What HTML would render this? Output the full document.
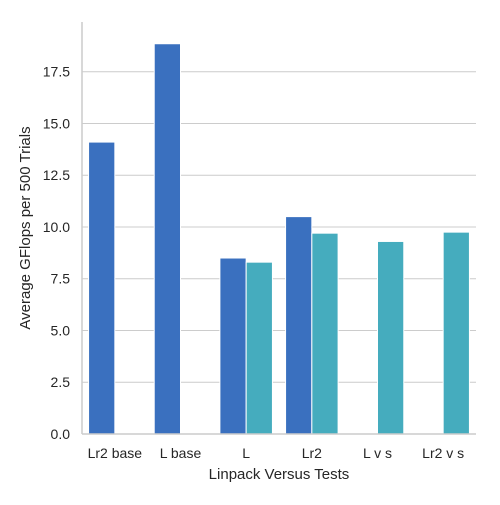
<!DOCTYPE html>
<html><head><meta charset="utf-8"><style>
body{margin:0;background:#fff;width:500px;height:500px;overflow:hidden}
text{font-family:"Liberation Sans",sans-serif;fill:#262626}
</style></head><body>
<svg id="chart" width="500" height="500" xmlns="http://www.w3.org/2000/svg"></svg>
<script>
const categories=["Lr2 base","L base","L","Lr2","L v s","Lr2 v s"];
const seriesBlue=[14.1,18.85,8.5,10.5,null,null];
const seriesTeal=[null,null,8.3,9.7,9.3,9.75];
const yTicks=[0,2.5,5,7.5,10,12.5,15,17.5];
const yTickLabels=["0.0","2.5","5.0","7.5","10.0","12.5","15.0","17.5"];
const svg=document.getElementById('chart');
const NS='http://www.w3.org/2000/svg';
const L=82,R=476,T=22,B=434,yMax=19.9;
const bw=(R-L)/categories.length;
function y(v){return B-(v/yMax)*(B-T);}
function xc(i){return L+bw*(i+0.5);}
function mk(tag,attrs){const e=document.createElementNS(NS,tag);for(const k in attrs)e.setAttribute(k,attrs[k]);svg.appendChild(e);return e;}
yTicks.forEach((t,i)=>{
  const g=mk('line',{x1:L,x2:R,y1:y(t),y2:y(t),stroke:'#cccccc','stroke-width':1});
  
  
  const tx=mk('text',{x:L-12,y:y(t)+5,'text-anchor':'end','font-size':14});
  tx.textContent=yTickLabels[i];
  
  
});
const w=bw*0.4;
function drawSeries(vals,off,color,name){
  vals.forEach((v,i)=>{
    if(v==null)return;
    const r=mk('rect',{x:xc(i)+off,y:y(v),width:w,height:B-y(v),fill:color,stroke:'#fff','stroke-width':1});
    
    
  });
}
drawSeries(seriesBlue,-w,'#3a70bf','bar-blue');
drawSeries(seriesTeal,0,'#45acbe','bar-teal');
categories.forEach((c,i)=>{
  const tx=mk('text',{x:xc(i),y:B+24,'text-anchor':'middle','font-size':14});
  tx.textContent=c;
  
  
});
const ax=mk('line',{x1:L,x2:L,y1:T,y2:B,stroke:'#cccccc','stroke-width':1.5});


const bx=mk('line',{x1:L,x2:R,y1:B,y2:B,stroke:'#cccccc','stroke-width':1.5});


const xt=mk('text',{x:(L+R)/2,y:479,'text-anchor':'middle','font-size':15});
xt.textContent='Linpack Versus Tests';


const yt=mk('text',{x:0,y:0,'text-anchor':'middle','font-size':15,transform:'translate(30,'+((T+B)/2)+') rotate(-90)'});
yt.textContent='Average GFlops per 500 Trials';


</script>
</body></html>
